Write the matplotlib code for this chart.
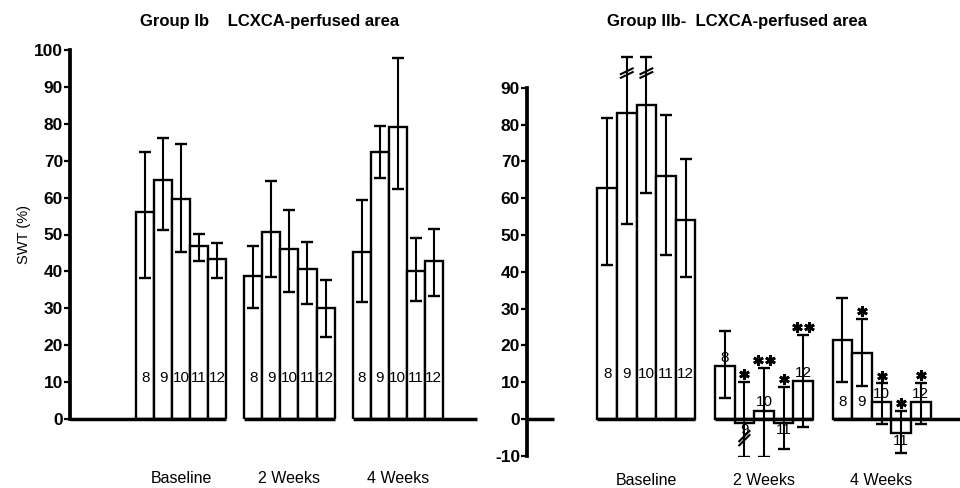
import matplotlib
matplotlib.use('Agg')
import matplotlib.pyplot as plt
import numpy as np

plt.rcParams['font.family'] = ['Liberation Sans', 'DejaVu Sans']

groups = ['Baseline', '2 Weeks', '4 Weeks']
bar_ids = ['8', '9', '10', '11', '12']

# Group Ib - LCXCA-perfused area (mean, upper and lower error limits)
ib_mean = [[56.0, 64.8, 59.6, 46.9, 43.4],
           [38.8, 50.8, 46.1, 40.6, 30.0],
           [45.2, 72.4, 79.0, 40.1, 42.9]]
ib_hi = [[72.4, 76.2, 74.5, 50.1, 47.6],
         [47.0, 64.5, 56.6, 48.0, 37.7],
         [59.3, 79.5, 97.7, 49.1, 51.4]]
ib_lo = [[38.1, 51.2, 45.3, 42.8, 38.3],
         [30.0, 38.4, 34.5, 31.1, 22.3],
         [31.8, 65.2, 62.2, 32.0, 33.3]]

# Group IIb - LCXCA-perfused area
iib_mean = [[62.9, 83.1, 85.2, 66.1, 54.1],
            [14.4, -1.0, 2.3, -1.0, 10.3],
            [21.5, 18.0, 4.5, -3.9, 4.5]]
iib_hi = [[81.9, 98.5, 98.5, 82.7, 70.6],
          [24.0, 10.1, 13.8, 8.8, 22.8],
          [32.8, 27.2, 9.7, 2.2, 9.9]]
iib_lo = [[41.8, 53.0, 61.5, 44.6, 38.7],
          [5.6, -10.2, -10.2, -8.2, -2.3],
          [10.1, 9.0, -1.4, -9.3, -1.4]]
iib_stars = [['', '', '', '', ''],
             ['', '*', '**', '*', '**'],
             ['', '*', '*', '*', '*']]
# error bars drawn with a break mark: (group, bar, 'hi'/'lo')
iib_breaks = [(0, 1, 'hi'), (0, 2, 'hi'), (1, 1, 'lo')]

GROUP_STEP = 6
LW = 1.7

fig = plt.figure(figsize=(9.6, 4.88), dpi=100)

def px_axes(x0, x1, ytop, ybot):
    W, H = 960.0, 488.0
    return fig.add_axes([x0 / W, (H - ybot) / H, (x1 - x0) / W, (ybot - ytop) / H])

def draw_panel(ax, mean, hi, lo, xlim, ylim, yticks, label_in_y, stars=None, breaks=(), first_gap=None):
    ax.set_xlim(*xlim)
    ax.set_ylim(*ylim)
    for g in range(len(mean)):
        lefts = np.arange(5) + g * GROUP_STEP
        centers = lefts + 0.5
        m = np.array(mean[g])
        ax.bar(lefts, m, width=1.0, align='edge', facecolor='white',
               edgecolor='black', linewidth=LW, zorder=2)
        yerr = np.vstack([m - np.array(lo[g]), np.array(hi[g]) - m])
        ax.errorbar(centers, m, yerr=yerr, fmt='none', ecolor='black',
                    elinewidth=1.5, capsize=4, capthick=1.7, zorder=3)
        for i in range(5):
            v = m[i]
            liy = label_in_y[g]
            if liy is not None and v > 16:
                ax.text(centers[i], liy, bar_ids[i], ha='center', va='center',
                        fontsize=11, zorder=4)
            elif v >= 0:
                ax.text(centers[i], v + 0.4, bar_ids[i], ha='center', va='bottom',
                        fontsize=11, zorder=4)
            else:
                ax.text(centers[i], v - 0.1, bar_ids[i], ha='center', va='top',
                        fontsize=11, zorder=4)
            if stars is not None and stars[g][i]:
                n = len(stars[g][i])
                offs = [0.0] if n == 1 else [-0.3, 0.3]
                for o in offs:
                    ax.plot(centers[i] + o, hi[g][i] + 2.1, marker=(6, 2, 0),
                            ms=7.5, mew=2.0, color='black', zorder=5, clip_on=False)
        # x-axis segment under the group
        seg_end = (g * GROUP_STEP + 5) if g < len(mean) - 1 else xlim[1]
        seg_start = g * GROUP_STEP if (g > 0 or first_gap is not None) else xlim[0]
        ax.plot([seg_start, seg_end], [0, 0], color='black', lw=2.5,
                solid_capstyle='butt', zorder=3, clip_on=False)
    if first_gap is not None:
        ax.plot([xlim[0], first_gap], [0, 0], color='black', lw=2.5,
                solid_capstyle='butt', zorder=3, clip_on=False)
    for (g, i, which) in breaks:
        cx = g * GROUP_STEP + i + 0.5
        if which == 'hi':
            cy = hi[g][i] - 4.5
            dx, dy, sep = 0.35, 0.9, 1.0
        else:
            cy = lo[g][i] + 5.0
            dx, dy, sep = 0.3, 1.6, 1.1
        for s in (-sep / 2, sep / 2):
            ax.plot([cx - dx, cx + dx], [cy + s - dy, cy + s + dy], color='black',
                    lw=1.5, zorder=4, solid_capstyle='butt')
    for sp in ('top', 'right', 'bottom'):
        ax.spines[sp].set_visible(False)
    ax.spines['left'].set_linewidth(2.7)
    ax.spines['left'].set_bounds(yticks[0], yticks[-1])
    ax.set_yticks(yticks)
    ax.set_yticklabels([str(t) for t in yticks], fontsize=12.5, fontweight='bold')
    ax.tick_params(axis='y', direction='out', length=4, width=1.6, pad=1)
    ax.set_xticks([])
    ax.patch.set_alpha(0)

# Left panel
axL = px_axes(70, 477, 50, 419)
draw_panel(axL, ib_mean, ib_hi, ib_lo, xlim=(-3.67, 18.9), ylim=(0, 100),
           yticks=list(range(0, 101, 10)), label_in_y=[11.0, 11.0, 11.0])
axL.set_ylabel('SWT (%)', fontsize=10.5, labelpad=2)
for g, name in enumerate(groups):
    axL.text(g * GROUP_STEP + 2.5, -16.0, name, ha='center', va='center',
             fontsize=11.5, clip_on=False)
axL.set_title('Group Ib    LCXCA-perfused area', fontsize=12, fontweight='bold',
              pad=17, x=0.49)

# Right panel
axR = px_axes(527, 960, 51, 455.8)
draw_panel(axR, iib_mean, iib_hi, iib_lo, xlim=(-3.59, 18.5), ylim=(-10, 100),
           yticks=list(range(-10, 91, 10)), label_in_y=[12.2, None, 4.6],
           stars=iib_stars, breaks=iib_breaks, first_gap=-2.2)
for g, name in enumerate(groups):
    axR.text(g * GROUP_STEP + 2.5, -16.8, name, ha='center', va='center',
             fontsize=11.5, clip_on=False)
axR.set_title('Group IIb-  LCXCA-perfused area', fontsize=12, fontweight='bold',
              pad=18, x=0.485)

fig.savefig('out.png', dpi=100, facecolor='white')
